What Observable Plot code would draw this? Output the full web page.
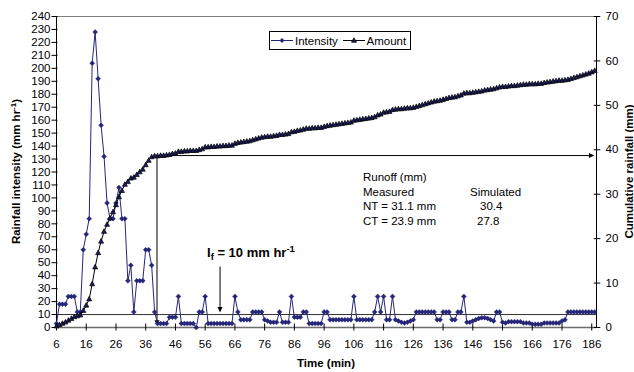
<!DOCTYPE html>
<html><head><meta charset="utf-8">
<script src="https://cdn.jsdelivr.net/npm/d3@7"></script>
<script src="https://cdn.jsdelivr.net/npm/@observablehq/plot@0.6"></script>
<style>
html,body{margin:0;padding:0;background:#fff;}
#chart{width:634px;height:372px;}
</style></head><body><div id="chart"></div>
<script>
// ---------- data ----------
const times = d3.range(6, 188); // minutes 6..187 (category axis)
const intensity = [
  3, 18, 18, 18, 24, 24, 24, 12, 12, 60,          // 6-15
  72, 84, 204, 228, 192, 156, 132, 96, 84, 84,    // 16-25
  96, 108, 84, 84, 36, 48, 12, 36, 36, 36,        // 26-35
  60, 60, 48, 12, 3, 3, 3, 3, 8, 8,               // 36-45
  8, 24, 3, 3, 3, 3, 3, 0, 12, 12,                // 46-55
  24, 3, 3, 3, 3, 3, 3, 3, 3, 3,                  // 56-65
  24, 12, 6, 6, 6, 6, 12, 12, 12, 12,             // 66-75
  6, 5, 4, 4, 4, 12, 4, 4, 4, 24,                 // 76-85
  8, 8, 8, 12, 12, 3, 3, 3, 3, 3,                 // 86-95
  12, 12, 6, 6, 6, 6, 6, 6, 6, 6,                 // 96-105
  24, 6, 6, 6, 6, 6, 6, 12, 24, 12,               // 106-115
  24, 6, 6, 24, 6, 5, 4, 3.5, 4, 5,               // 116-125
  6, 12, 12, 12, 12, 12, 12, 12, 6, 6,            // 126-135
  12, 12, 12, 6, 6, 12, 12, 24, 4, 4,             // 136-145
  5, 6, 7, 7.5, 7.5, 7, 6, 5, 12, 12,             // 146-155
  4, 3.5, 4.5, 4.5, 4.5, 4.5, 4.5, 3.5, 3.5, 3.5, // 156-165
  2.5, 2.5, 2.5, 2.5, 3.5, 3.5, 3.5, 3.5, 3.5, 3.5, // 166-175
  5, 6, 12, 12, 12, 12, 12, 12, 12, 12,           // 176-185
  12, 12                                          // 186-187
];
const amount = [
  0.3, 0.6, 0.9, 1.2, 1.6, 2.0, 2.4, 2.6, 2.8, 3.8,
  5.0, 6.4, 9.8, 13.6, 16.8, 19.4, 21.6, 23.2, 24.6, 26.0,
  27.6, 29.4, 30.8, 32.2, 32.8, 33.6, 33.8, 34.4, 35.0, 35.6,
  36.6, 37.6, 38.4, 38.6, 38.6, 38.7, 38.7, 38.8, 38.9, 39.1,
  39.2, 39.6, 39.6, 39.7, 39.7, 39.8, 39.8, 39.8, 40.0, 40.2,
  40.6, 40.6, 40.7, 40.7, 40.8, 40.8, 40.9, 40.9, 41.0, 41.0,
  41.4, 41.6, 41.7, 41.8, 41.9, 42.0, 42.2, 42.4, 42.6, 42.8,
  42.9, 43.0, 43.0, 43.1, 43.2, 43.4, 43.4, 43.5, 43.6, 44.0,
  44.1, 44.3, 44.4, 44.6, 44.8, 44.8, 44.9, 44.9, 45.0, 45.0,
  45.2, 45.4, 45.5, 45.6, 45.7, 45.8, 45.9, 46.0, 46.1, 46.2,
  46.6, 46.7, 46.8, 46.9, 47.0, 47.1, 47.2, 47.4, 47.8, 48.0,
  48.4, 48.5, 48.6, 49.0, 49.1, 49.2, 49.2, 49.3, 49.4, 49.4,
  49.5, 49.7, 49.9, 50.1, 50.3, 50.5, 50.7, 50.9, 51.0, 51.1,
  51.3, 51.5, 51.7, 51.8, 51.9, 52.1, 52.3, 52.7, 52.8, 52.8,
  52.9, 53.0, 53.1, 53.2, 53.4, 53.5, 53.6, 53.7, 53.9, 54.1,
  54.2, 54.2, 54.3, 54.4, 54.4, 54.5, 54.6, 54.7, 54.7, 54.8,
  54.8, 54.8, 54.9, 54.9, 55.1, 55.2, 55.3, 55.4, 55.5, 55.6,
  55.6, 55.7, 55.8, 56.0, 56.2, 56.4, 56.6, 56.8, 57.0, 57.2,
  57.5, 57.8
];
const leftTicks = d3.range(0, 241, 10);
const rightTicks = d3.range(0, 71, 10);
const timeTicks = d3.range(6, 187, 10);
const seriesNames = ["Intensity", "Amount"];
const thresholdI = 10;           // I_f (mm hr-1)
const runoffStartMin = 39.8;     // end of intense phase (min)
const runoffStartAmt = 38.7;     // cumulative rainfall then (mm)
const ifArrowMin = 61;
const runoffTable = [
  ["Runoff (mm)", ""],
  ["Measured", "Simulated"],
  ["NT = 31.1 mm", "30.4"],
  ["CT = 23.9 mm", "27.8"]
];

// ---------- setup ----------
const toLeft = 240 / 70;
const rows = times.map((t, i) => ({t, intensity: intensity[i], amountL: amount[i] * toLeft}));
const navy = "#262678";
const font = '"Liberation Sans", Arial, sans-serif';

const diamond = {draw(c) { const d = 2.5; c.moveTo(0, -d); c.lineTo(d, 0); c.lineTo(0, d); c.lineTo(-d, 0); c.closePath(); }};
const tri = {draw(c) { const w = 5, h = 4.6; c.moveTo(0, -h * 0.6); c.lineTo(w / 2, h * 0.4); c.lineTo(-w / 2, h * 0.4); c.closePath(); }};
const headDown = {draw(c) { const w = 5, h = 5.5; c.moveTo(0, 0); c.lineTo(-w / 2, -h); c.lineTo(w / 2, -h); c.closePath(); }};
const headRight = {draw(c) { const w = 5, h = 5.5; c.moveTo(0, 0); c.lineTo(-h, -w / 2); c.lineTo(-h, w / 2); c.closePath(); }};

const xEnd = 187.6;
const yRun = runoffStartAmt * toLeft;
const links = [
  {x1: runoffStartMin, y1: yRun, x2: runoffStartMin, y2: 2.5},
  {x1: runoffStartMin, y1: yRun, x2: 186.3, y2: yRun},
  {x1: ifArrowMin, y1: 47, x2: ifArrowMin, y2: 14}
];
const headsDown = [{x: runoffStartMin, y: 1.3}, {x: ifArrowMin, y: 11.5}];
const headsRight = [{x: 186.9, y: yRun}];

const chart = Plot.plot({
  width: 634, height: 372,
  marginLeft: 56, marginRight: 38, marginTop: 16, marginBottom: 45,
  style: {fontFamily: font, fontSize: "11.5px", background: "#fff", color: "#000", overflow: "visible"},
  x: {domain: [6, xEnd], axis: null, label: null},
  y: {domain: [0, 240], axis: null, label: null},
  marks: [
    Plot.ruleY([240], {stroke: "#808080", strokeWidth: 1}),
    Plot.ruleY([0], {stroke: "#6e6e6e", strokeWidth: 1.6}),
    Plot.ruleY([thresholdI], {stroke: "#333", strokeWidth: 1}),
    Plot.ruleX([6], {stroke: "#000"}),
    Plot.ruleX([xEnd], {stroke: "#000"}),
    Plot.axisY(leftTicks, {anchor: "left", tickSize: 6, dx: 1.5, tickPadding: 1.5, label: null}),
    Plot.axisY(rightTicks.map(v => v * toLeft), {anchor: "right", tickSize: 6.6, dx: -3.3, tickPadding: 5.7, tickFormat: v => String(Math.round(v / toLeft)), label: null}),
    Plot.axisX(timeTicks, {anchor: "bottom", tickSize: 7, dy: -3.5, tickFormat: () => "", label: null}),
    Plot.axisX(timeTicks, {anchor: "bottom", tickSize: 0, tickPadding: 12, label: null}),
    Plot.link(links, {x1: "x1", y1: "y1", x2: "x2", y2: "y2", stroke: "#000", strokeWidth: 1}),
    Plot.dot(headsDown, {x: "x", y: "y", symbol: headDown, fill: "#000", stroke: "none"}),
    Plot.dot(headsRight, {x: "x", y: "y", symbol: headRight, fill: "#000", stroke: "none"}),
    Plot.line(rows, {x: "t", y: "intensity", stroke: navy, strokeWidth: 1}),
    Plot.dot(rows, {x: "t", y: "intensity", symbol: diamond, fill: navy, stroke: navy, strokeWidth: 0.4}),
    Plot.line(rows, {x: "t", y: "amountL", stroke: "#000", strokeWidth: 1}),
    Plot.dot(rows, {x: "t", y: "amountL", symbol: tri, fill: "#1c1c5c", stroke: "#000", strokeWidth: 0.7})
  ]
});
document.getElementById("chart").appendChild(chart);

// ---------- annotations ----------
const svg = d3.select(chart);
const g = svg.append("g").attr("font-family", font).attr("fill", "#000").attr("text-anchor", "start");

// axis titles
g.append("text").attr("x", 326).attr("y", 366.5).attr("text-anchor", "middle")
  .attr("font-weight", "bold").attr("font-size", 11.5).text("Time (min)");
const lt = g.append("text").attr("transform", "translate(19.5,171.5) rotate(-90)")
  .attr("text-anchor", "middle").attr("font-weight", "bold").attr("font-size", 11.5);
lt.append("tspan").text("Rainfall intensity (mm hr");
lt.append("tspan").attr("dy", -4).attr("font-size", 8).text("-1");
lt.append("tspan").attr("dy", 4).text(")");
g.append("text").attr("transform", "translate(632.5,171.5) rotate(-90)")
  .attr("text-anchor", "middle").attr("font-weight", "bold").attr("font-size", 11.5)
  .text("Cumulative rainfall (mm)");

// I_f label
const it = g.append("text").attr("x", 207).attr("y", 257).attr("font-weight", "bold").attr("font-size", 13);
it.append("tspan").text("I");
it.append("tspan").attr("font-size", 9.5).attr("dy", 3).text("f");
it.append("tspan").attr("dy", -3).text(" = 10 mm hr");
it.append("tspan").attr("font-size", 9.5).attr("dy", -5.5).text("-1");

// runoff table
const rowY = [181, 195.7, 210.4, 225.1];
const col2X = [0, 470, 480, 477];
runoffTable.forEach((r, i) => {
  g.append("text").attr("x", 363).attr("y", rowY[i]).attr("font-size", 11.5).text(r[0]);
  if (r[1]) g.append("text").attr("x", col2X[i]).attr("y", rowY[i]).attr("font-size", 11.5).text(r[1]);
});

// legend
const lg = svg.append("g").attr("font-family", font).attr("text-anchor", "start");
lg.append("rect").attr("x", 269.5).attr("y", 31.5).attr("width", 141).attr("height", 18)
  .attr("fill", "#fff").attr("stroke", "#000").attr("stroke-width", 1);
lg.append("line").attr("x1", 271).attr("x2", 293).attr("y1", 40.5).attr("y2", 40.5).attr("stroke", navy);
lg.append("path").attr("d", d3.symbol(diamond)()).attr("transform", "translate(282,40.5)").attr("fill", navy);
lg.append("text").attr("x", 295).attr("y", 44.8).attr("font-size", 11.5).text(seriesNames[0]);
lg.append("line").attr("x1", 343).attr("x2", 365).attr("y1", 40.5).attr("y2", 40.5).attr("stroke", "#000");
lg.append("path").attr("d", d3.symbol(tri)()).attr("transform", "translate(354,40.5)")
  .attr("fill", "#1c1c5c").attr("stroke", "#000").attr("stroke-width", 0.7);
lg.append("text").attr("x", 366.5).attr("y", 44.8).attr("font-size", 11.5).text(seriesNames[1]);
</script></body></html>
